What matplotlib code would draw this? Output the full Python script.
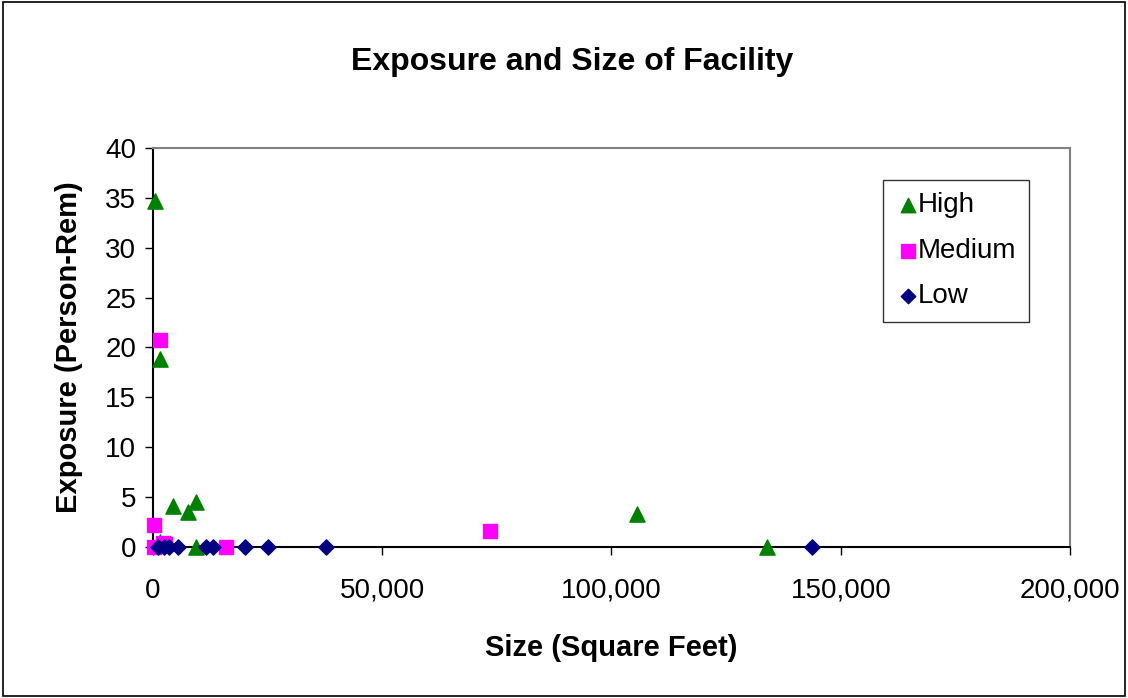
import matplotlib.pyplot as plt
from matplotlib.patches import Rectangle
from matplotlib.ticker import FuncFormatter

plt.rcParams['font.family'] = ['Liberation Sans', 'DejaVu Sans']

# Facility size (sq ft) and exposure (person-rem) by category
high_size = [400, 1500, 1500, 4400, 7600, 9400, 9400, 105500, 134000]
high_exp = [34.7, 18.8, 0.5, 4.1, 3.5, 4.5, 0.0, 3.3, 0.0]

medium_size = [200, 200, 1500, 2200, 2600, 16000, 73500]
medium_exp = [2.2, 0.0, 20.8, 0.4, 0.3, 0.0, 1.6]

low_size = [1000, 2500, 3500, 5500, 11500, 13000, 20000, 25000, 37800, 143700]
low_exp = [0, 0, 0, 0, 0, 0, 0, 0, 0, 0]

fig = plt.figure(figsize=(11.28, 6.98), dpi=100)
fig.patches.append(Rectangle((0.003, 0.003), 0.994, 0.994, transform=fig.transFigure,
                             fill=False, edgecolor='black', linewidth=1.2))

ax = fig.add_axes([0.1356, 0.2163, 0.8130, 0.5717])
ax.scatter(high_size, high_exp, marker='^', s=120, color='#008000', label='High',
           zorder=3, clip_on=False)
ax.scatter(medium_size, medium_exp, marker='s', s=110, color='#FF00FF', label='Medium',
           zorder=3, clip_on=False)
ax.scatter(low_size, low_exp, marker='D', s=60, color='#000080', label='Low',
           zorder=3, clip_on=False)

ax.set_xlim(0, 200000)
ax.set_ylim(0, 40)
ax.set_xticks([0, 50000, 100000, 150000, 200000])
ax.set_yticks(range(0, 41, 5))
ax.xaxis.set_major_formatter(FuncFormatter(lambda v, p: f'{int(v):,}'))
ax.tick_params(labelsize=20, length=6, width=1, direction='out', pad=6)
ax.tick_params(axis='x', pad=16)

for side in ['top', 'right']:
    ax.spines[side].set_color('#808080')
    ax.spines[side].set_linewidth(1.5)
for side in ['left', 'bottom']:
    ax.spines[side].set_linewidth(1.5)

ax.set_xlabel('Size (Square Feet)', fontsize=21, fontweight='bold', labelpad=22)
ax.set_ylabel('Exposure (Person-Rem)', fontsize=21, fontweight='bold', labelpad=16)
fig.text(0.507, 0.911, 'Exposure and Size of Facility', fontsize=23, fontweight='bold',
         ha='center', va='center')

leg = ax.legend(loc='upper right', bbox_to_anchor=(0.955, 0.92), fontsize=20, frameon=True,
                fancybox=False, edgecolor='black', handletextpad=-0.1, labelspacing=0.7,
                borderpad=0.45, borderaxespad=0, markerscale=0.95, handlelength=0.9)
leg.get_frame().set_linewidth(1)

fig.savefig('out.png', dpi=100)
